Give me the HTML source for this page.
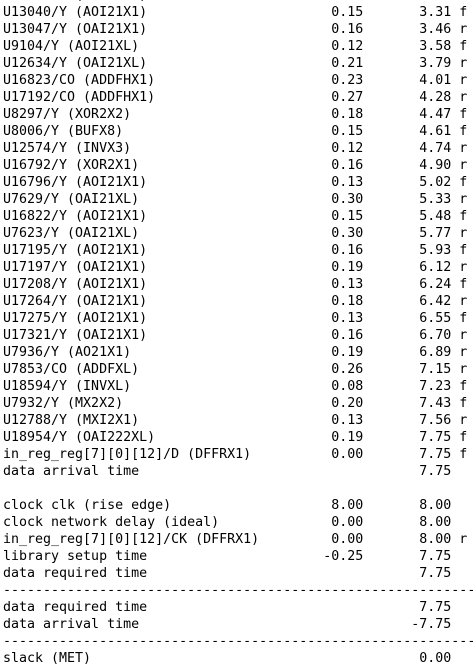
<!DOCTYPE html>
<html><head><meta charset="utf-8"><style>
html,body{margin:0;padding:0;background:#fff;width:473px;height:672px;overflow:hidden}
pre{position:absolute;left:3px;top:-13px;margin:0;font-family:"DejaVu Sans Mono","Liberation Mono",monospace;font-size:13.3px;line-height:17px;color:#000;white-space:pre}
</style></head><body>
<pre>U12998/Y (AOI21X1)                       0.14       3.16 r
U13040/Y (AOI21X1)                       0.15       3.31 f
U13047/Y (OAI21X1)                       0.16       3.46 r
U9104/Y (AOI21XL)                        0.12       3.58 f
U12634/Y (OAI21XL)                       0.21       3.79 r
U16823/CO (ADDFHX1)                      0.23       4.01 r
U17192/CO (ADDFHX1)                      0.27       4.28 r
U8297/Y (XOR2X2)                         0.18       4.47 f
U8006/Y (BUFX8)                          0.15       4.61 f
U12574/Y (INVX3)                         0.12       4.74 r
U16792/Y (XOR2X1)                        0.16       4.90 r
U16796/Y (AOI21X1)                       0.13       5.02 f
U7629/Y (OAI21XL)                        0.30       5.33 r
U16822/Y (AOI21X1)                       0.15       5.48 f
U7623/Y (OAI21XL)                        0.30       5.77 r
U17195/Y (AOI21X1)                       0.16       5.93 f
U17197/Y (OAI21X1)                       0.19       6.12 r
U17208/Y (AOI21X1)                       0.13       6.24 f
U17264/Y (OAI21X1)                       0.18       6.42 r
U17275/Y (AOI21X1)                       0.13       6.55 f
U17321/Y (OAI21X1)                       0.16       6.70 r
U7936/Y (AO21X1)                         0.19       6.89 r
U7853/CO (ADDFXL)                        0.26       7.15 r
U18594/Y (INVXL)                         0.08       7.23 f
U7932/Y (MX2X2)                          0.20       7.43 f
U12788/Y (MXI2X1)                        0.13       7.56 r
U18954/Y (OAI222XL)                      0.19       7.75 f
in_reg_reg[7][0][12]/D (DFFRX1)          0.00       7.75 f
data arrival time                                   7.75

clock clk (rise edge)                    8.00       8.00
clock network delay (ideal)              0.00       8.00
in_reg_reg[7][0][12]/CK (DFFRX1)         0.00       8.00 r
library setup time                      -0.25       7.75
data required time                                  7.75
------------------------------------------------------------
data required time                                  7.75
data arrival time                                  -7.75
------------------------------------------------------------
slack (MET)                                         0.00
</pre>
</body></html>
